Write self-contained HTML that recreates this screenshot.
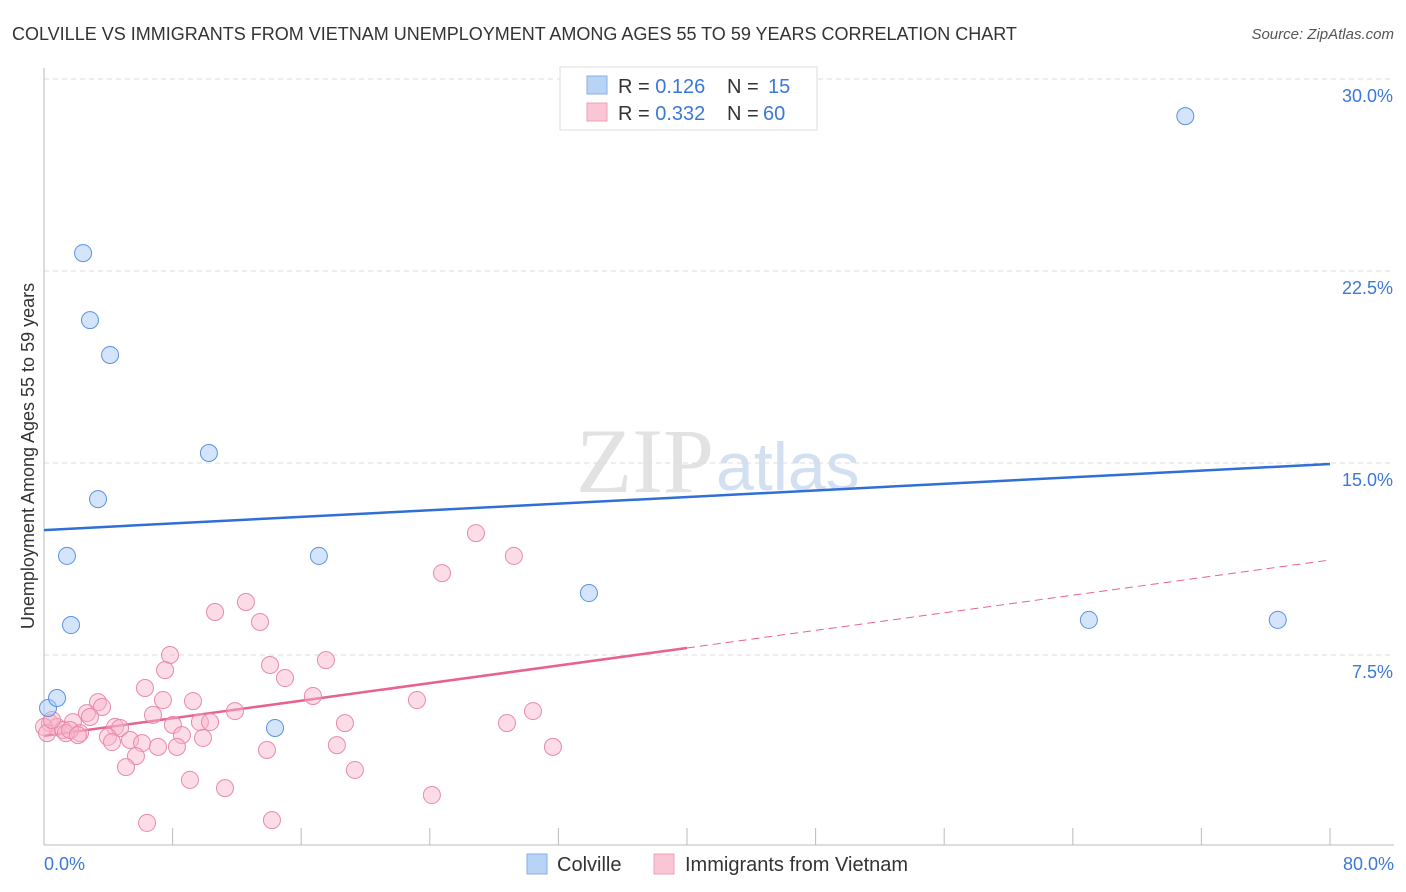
<!DOCTYPE html>
<html><head><meta charset="utf-8"><style>
body{margin:0;background:#fff;font-family:"Liberation Sans",sans-serif;}
svg{display:block}
</style></head><body>
<svg id="chart" width="1406" height="892" xmlns="http://www.w3.org/2000/svg">
<text x="12" y="40" font-size="18" fill="#333">COLVILLE VS IMMIGRANTS FROM VIETNAM UNEMPLOYMENT AMONG AGES 55 TO 59 YEARS CORRELATION CHART</text>
<text x="1394" y="39" font-size="15" fill="#555" font-style="italic" text-anchor="end">Source: ZipAtlas.com</text>
<text x="714" y="492" font-size="92" font-family="Liberation Serif,serif" fill="#e2e2e2" text-anchor="end">ZIP</text>
<text x="716" y="490" font-size="68" fill="#d3e0f1">atlas</text>
<g id="grid"></g><g id="axes"></g><g id="lines"></g><g id="pts"></g>
<text transform="translate(34,456) rotate(-90)" font-size="18" fill="#333" text-anchor="middle">Unemployment Among Ages 55 to 59 years</text>
<g>
<rect x="560" y="67" width="257" height="63" fill="#fff" stroke="#ddd"/>
<rect x="587" y="76" width="20" height="18" fill="#b8d3f5" stroke="#88aee6"/>
<rect x="587" y="103" width="20" height="18" fill="#fac6d6" stroke="#eda0b8"/>
<text x="618" y="93" font-size="20" fill="#333">R = <tspan fill="#3b78d8">0.126</tspan><tspan x="727">N = </tspan><tspan fill="#3b78d8" x="768">15</tspan></text>
<text x="618" y="120" font-size="20" fill="#333">R = <tspan fill="#3b78d8">0.332</tspan><tspan x="727">N = </tspan><tspan fill="#3b78d8" x="763">60</tspan></text>
</g>
<g>
<rect x="527" y="854" width="20" height="20" fill="#b8d3f5" stroke="#88aee6"/>
<text x="557" y="871" font-size="20" fill="#333">Colville</text>
<rect x="654" y="854" width="20" height="20" fill="#fac6d6" stroke="#eda0b8"/>
<text x="685" y="871" font-size="20" fill="#333">Immigrants from Vietnam</text>
</g>
</svg>
<script>
const yTicks=[7.5,15,22.5,30];
const yTickLabels=["7.5%","15.0%","22.5%","30.0%"];
const xTickLabels=["0.0%","80.0%"];
const colvilleX=[0.25,0.81,1.43,1.68,2.43,2.86,3.36,4.11,10.26,14.37,17.1,33.9,65.0,71.0,76.75];
const colvilleY=[5.43,5.82,11.37,8.67,23.2,20.58,13.59,19.22,15.39,4.65,11.37,9.92,8.87,28.55,8.87];
const vietnamX=[12.56,10.64,13.44,7.84,7.53,14.06,14.99,17.54,6.28,3.36,3.61,7.40,9.27,16.73,11.88,6.78,2.67,2.86,1.80,0.37,0.81,1.18,2.24,4.42,4.73,8.02,9.70,10.33,18.72,8.58,3.98,4.23,5.35,6.10,9.89,7.09,8.27,5.72,13.87,18.22,5.10,19.34,9.08,11.26,6.41,14.18,24.76,26.87,29.23,23.20,28.80,30.42,31.66,24.13,0,0.19,0.50,1.37,1.62,2.11];
const vietnamY=[9.57,9.18,8.79,7.50,6.91,7.11,6.60,7.30,6.21,5.66,5.47,5.74,5.70,5.90,5.31,5.16,5.23,5.08,4.88,4.84,4.69,4.57,4.45,4.69,4.65,4.77,4.88,4.88,4.84,4.37,4.30,4.10,4.18,4.06,4.26,3.91,3.91,3.55,3.79,3.98,3.12,3.01,2.62,2.30,0.94,1.05,10.70,12.26,11.37,5.74,4.84,5.31,3.91,2.03,4.69,4.45,4.96,4.45,4.57,4.37];
const colvilleTrend=[12.38,14.96]; // value at x=0 and x=80
const vietnamTrend=[4.34,11.21];
const vietnamSolidEnd=40;

const NS="http://www.w3.org/2000/svg";
const X=v=>44+v/80*1286, Y=v=>847-v/7.5*192;
function mk(tag,attrs,parent){const e=document.createElementNS(NS,tag);for(const k in attrs)e.setAttribute(k,attrs[k]);document.getElementById(parent).appendChild(e);return e;}
yTicks.forEach((t,i)=>{
 const l=mk('line',{x1:44,x2:1394,y1:Y(t),y2:Y(t),stroke:'#ddd','stroke-dasharray':'5,4'},'grid');
 
 
 const tx=mk('text',{x:1393,y:Y(t)+23,'font-size':18,fill:'#3b78d8','text-anchor':'end'},'grid');
 
 
 tx.textContent=yTickLabels[i];
});
const ax=mk('line',{x1:44,x2:1394,y1:845,y2:845,stroke:'#bbb'},'axes');


const ay=mk('line',{x1:44,x2:44,y1:68,y2:845,stroke:'#bbb'},'axes');


for(let i=1;i<=10;i++){const t=mk('line',{x1:X(i*8),x2:X(i*8),y1:828,y2:845,stroke:'#bbb'},'axes');
 
 }
[[0,44,'start'],[80,1394,'end']].forEach((d,i)=>{const t=mk('text',{x:d[1],y:870,'font-size':18,fill:'#3b78d8','text-anchor':d[2]},'axes');
 
 
 t.textContent=xTickLabels[i];});
const tv=(tr,x)=>tr[0]+(tr[1]-tr[0])*x/80;
const bl=mk('line',{x1:X(0),y1:Y(tv(colvilleTrend,0)),x2:X(80),y2:Y(tv(colvilleTrend,80)),stroke:'#2f6fd6','stroke-width':2.5},'lines');


const pl=mk('line',{x1:X(0),y1:Y(tv(vietnamTrend,0)),x2:X(vietnamSolidEnd),y2:Y(tv(vietnamTrend,vietnamSolidEnd)),stroke:'#e8638c','stroke-width':2.5},'lines');


const pd=mk('line',{x1:X(vietnamSolidEnd),y1:Y(tv(vietnamTrend,vietnamSolidEnd)),x2:X(80),y2:Y(tv(vietnamTrend,80)),stroke:'#e8638c','stroke-width':1,'stroke-dasharray':'8,5'},'lines');


vietnamX.forEach((x,i)=>{const c=mk('circle',{cx:X(x),cy:Y(vietnamY[i]),r:8.5,fill:'rgba(248,180,202,0.45)',stroke:'#e88aa8','stroke-width':1},'pts');
 
 });
colvilleX.forEach((x,i)=>{const c=mk('circle',{cx:X(x),cy:Y(colvilleY[i]),r:8.5,fill:'rgba(170,202,245,0.5)',stroke:'#5b93e0','stroke-width':1},'pts');
 
 });
</script>
</body></html>
